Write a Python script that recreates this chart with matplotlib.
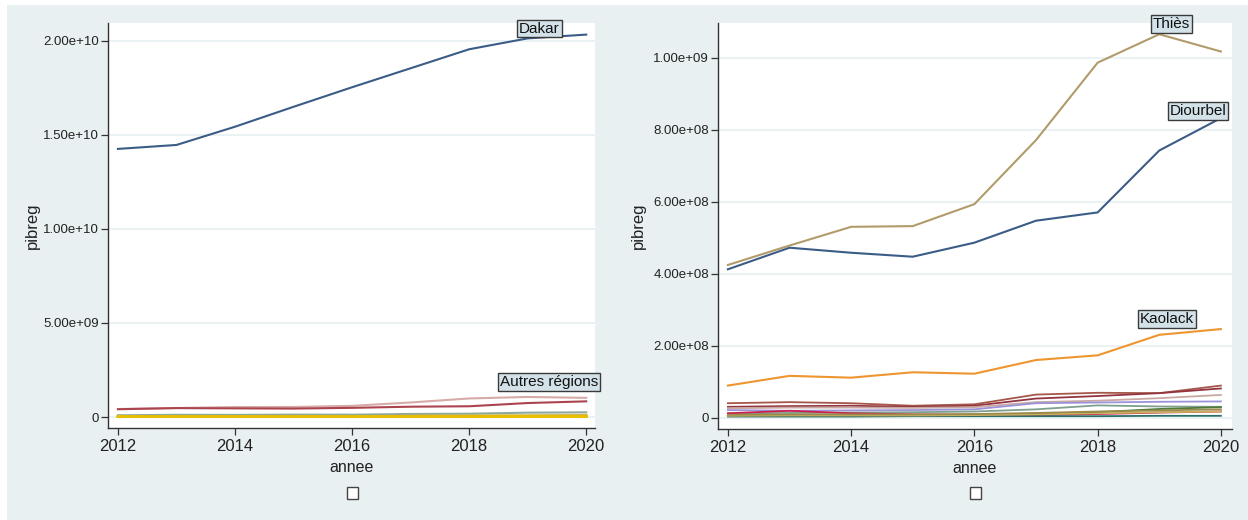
import matplotlib
matplotlib.use("Agg")
import matplotlib.pyplot as plt
from matplotlib.patches import Rectangle
from matplotlib.ticker import FixedLocator

plt.rcParams['font.family'] = ['Liberation Sans', 'DejaVu Sans']

annees = [2012, 2013, 2014, 2015, 2016, 2017, 2018, 2019, 2020]

# PIB régional (pibreg)
dakar = [14.26e9, 14.47e9, 15.44e9, 16.50e9, 17.54e9, 18.55e9, 19.56e9, 20.14e9, 20.34e9]
thies = [0.425e9, 0.479e9, 0.531e9, 0.533e9, 0.594e9, 0.772e9, 0.987e9, 1.066e9, 1.018e9]
diourbel = [0.413e9, 0.473e9, 0.459e9, 0.448e9, 0.487e9, 0.548e9, 0.571e9, 0.743e9, 0.833e9]
kaolack = [0.090e9, 0.117e9, 0.112e9, 0.127e9, 0.123e9, 0.161e9, 0.174e9, 0.231e9, 0.247e9]

autre1 = [41e6, 44e6, 41e6, 34e6, 38e6, 65e6, 70e6, 69e6, 90e6]
autre2 = [31e6, 33e6, 34e6, 31e6, 34e6, 54e6, 61e6, 69e6, 82e6]
autre3 = [27e6, 29e6, 29e6, 28e6, 30e6, 44e6, 48e6, 55e6, 64e6]
autre4 = [22e6, 20e6, 21e6, 22e6, 24e6, 41e6, 43e6, 45e6, 46e6]
autre5 = [13e6, 14e6, 15e6, 16e6, 18e6, 24e6, 35e6, 32e6, 31e6]
autre6 = [13e6, 20e6, 13e6, 10e6, 9e6, 8e6, 11e6, 15e6, 18e6]
autre7 = [7e6, 8e6, 8e6, 8e6, 9e6, 12e6, 16e6, 25e6, 30e6]
autre8 = [4e6, 4e6, 4e6, 5e6, 5e6, 5e6, 5e6, 6e6, 6e6]
autre9 = [6e6, 7e6, 7e6, 7e6, 8e6, 10e6, 13e6, 16e6, 18e6]
autre10 = [9e6, 10e6, 10e6, 10e6, 11e6, 14e6, 18e6, 21e6, 24e6]

autres = [autre1, autre2, autre3, autre4, autre5, autre6, autre7, autre8, autre9, autre10]

left_ticks = [0, 5e9, 1e10, 1.5e10, 2e10]
left_ticklabels = ["0", "5.00e+09", "1.00e+10", "1.50e+10", "2.00e+10"]
right_ticks = [0, 2e8, 4e8, 6e8, 8e8, 1e9]
right_ticklabels = ["0", "2.00e+08", "4.00e+08", "6.00e+08", "8.00e+08", "1.00e+09"]
x_ticks = [2012, 2014, 2016, 2018, 2020]

W, H = 1248, 520
fig = plt.figure(figsize=(W / 100, H / 100), dpi=100, facecolor='white')

# graph region background
fig.patches.append(Rectangle((7 / W, 0), 1 - 7 / W, 1 - 5 / H, transform=fig.transFigure,
                             facecolor='#E9F0F2', edgecolor='none', zorder=-10))

TXT = '#222222'


def style_axes(ax, yticks, ylabels):
    ax.set_facecolor('white')
    for s in ('top', 'right'):
        ax.spines[s].set_visible(False)
    for s in ('left', 'bottom'):
        ax.spines[s].set_color('#333333')
        ax.spines[s].set_linewidth(1.0)
    ax.yaxis.set_major_locator(FixedLocator(yticks))
    ax.set_yticklabels(ylabels)
    ax.set_xticks(x_ticks)
    ax.set_xticklabels([str(t) for t in x_ticks])
    ax.tick_params(axis='y', direction='out', length=5, width=0.9, color='#333333',
                   labelsize=9.5, labelcolor=TXT, pad=1.5)
    ax.tick_params(axis='x', direction='out', length=5, width=0.9, color='#333333',
                   labelsize=12, labelcolor=TXT, pad=3)
    ax.grid(axis='y', color='#E6EFF1', linewidth=1.1)
    ax.set_axisbelow(True)
    ax.set_xlabel('annee', fontsize=11.5, color=TXT)
    ax.set_ylabel('pibreg', fontsize=12, color=TXT)


def box_label(ax, x, y, s):
    ax.text(x, y, s, ha='center', va='center', fontsize=11, color='#111111', clip_on=False,
            bbox=dict(boxstyle='square,pad=0.12', facecolor='#D3E2E8', edgecolor='#3A3A3A',
                      linewidth=1.0), zorder=10)


# ---- left panel: all regions ----
axL = fig.add_axes([108 / W, 1 - 428 / H, (595 - 108) / W, (428 - 23) / H])
style_axes(axL, left_ticks, left_ticklabels)
axL.plot(annees, dakar, color='#3B5C86', lw=1.5)
axL.plot(annees, thies, color='#D6ABA8', lw=1.5)
axL.plot(annees, diourbel, color='#AC4450', lw=1.5)
axL.plot(annees, kaolack, color='#8EA99D', lw=1.5)
left_autre_colors = ['#C9B25A', '#D2B33A', '#D9B628', '#DDB81C', '#E0BA14',
                     '#E3BC0E', '#E5BD0A', '#E6BE06', '#E7BE04', '#E8BF02']
for serie, c in zip(autres, left_autre_colors):
    axL.plot(annees, serie, color=c, lw=1.6)
axL.set_xlim(2011.83, 2020.15)
axL.set_ylim(-0.585e9, 2.0957e10)
box_label(axL, 2019.2, 2.066e10, 'Dakar')
box_label(axL, 2019.36, 1.86e9, 'Autres régions')
axL.yaxis.set_label_coords(-0.14, 0.5)
axL.xaxis.set_label_coords(0.5, -0.078)

# ---- right panel: regions other than Dakar ----
axR = fig.add_axes([718 / W, 1 - 429 / H, (1232 - 718) / W, (429 - 23) / H])
style_axes(axR, right_ticks, right_ticklabels)
right_autre_colors = ['#A5574A', '#93353F', '#C9A8A2', '#9B93DA', '#7FA08E',
                      '#CC1F4C', '#4F7A3A', '#2A6E68', '#C9B060', '#9C8A4C']
for serie, c in zip(autres, right_autre_colors):
    axR.plot(annees, serie, color=c, lw=1.3)
axR.plot(annees, kaolack, color='#EE9530', lw=1.5)
axR.plot(annees, diourbel, color='#3B5C86', lw=1.5)
axR.plot(annees, thies, color='#B29B6A', lw=1.5)
axR.set_xlim(2011.84, 2020.18)
axR.set_ylim(-0.0306e9, 1.0972e9)
box_label(axR, 2019.2, 1.094e9, 'Thiès')
box_label(axR, 2019.63, 0.853e9, 'Diourbel')
box_label(axR, 2019.12, 0.275e9, 'Kaolack')
axR.yaxis.set_label_coords(-0.14, 0.5)
axR.xaxis.set_label_coords(0.5, -0.078)

# empty legend keys under each panel
for cx in (352, 975):
    fig.patches.append(Rectangle(((cx - 5.5) / W, 1 - 499 / H), 11 / W, 12 / H,
                                 transform=fig.transFigure, facecolor='white',
                                 edgecolor='#444444', linewidth=1.0, zorder=5))

fig.savefig('out.png', dpi=100, facecolor=fig.get_facecolor())
